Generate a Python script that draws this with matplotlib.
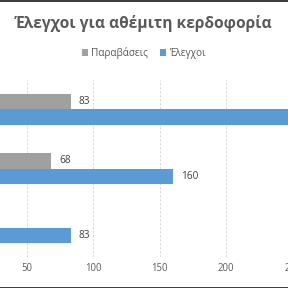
import matplotlib.pyplot as plt
from matplotlib.lines import Line2D

plt.rcParams['font.family'] = ['Open Sans', 'DejaVu Sans']
plt.rcParams['hatch.linewidth'] = 0.8

# data (bottom to top)
categories = ['Γ', 'Β', 'Α']
violations = [15, 68, 83]
checks = [83, 160, 260]
series_names = ['Παραβάσεις', 'Έλεγχοι']
xticks = [0, 50, 100, 150, 200, 250, 300]

W, H = 288, 288
fig = plt.figure(figsize=(W / 72, H / 72), dpi=72)
fig.patch.set_facecolor('white')

# plot area extends beyond the left/right edges like the cropped original
ax = fig.add_axes([-39.3 / W, 31 / H, 398 / W, 177 / H])

h = 0.265
y = list(range(len(categories)))
gray_bars = ax.barh([v + h / 2 for v in y], violations, height=h,
                    color='#a8a8a8', hatch='......', edgecolor='#8f8f8f',
                    linewidth=0, label=series_names[0])
blue_bars = ax.barh([v - h / 2 for v in y], checks, height=h,
                    color='#5b9bd5', linewidth=0, label=series_names[1])

for bars, vals in ((gray_bars, violations), (blue_bars, checks)):
    for b, v in zip(bars, vals):
        ax.annotate(str(v), (v, b.get_y() + b.get_height() / 2),
                    xytext=(8, 0), textcoords='offset points',
                    ha='left', va='center', fontsize=10, color='#404040')

ax.set_xlim(0, 300)
ax.set_ylim(-0.5, len(categories) - 0.5)
ax.set_xticks(xticks)
ax.set_yticks([])
ax.tick_params(axis='x', length=0, labelsize=9.5, labelcolor='#595959', pad=6)
ax.grid(axis='x', color='#d0d0d0', linewidth=0.8, linestyle=(0, (3, 2)))
ax.set_axisbelow(True)
for s in ax.spines.values():
    s.set_visible(False)

fig.text(0.5, 1 - 23 / H, 'Έλεγχοι για αθέμιτη κερδοφορία', ha='center',
         va='center', fontsize=15.5, fontweight='bold', color='#595959')
fig.legend(handles=[gray_bars, blue_bars], loc='center',
           bbox_to_anchor=(0.5, 1 - 53 / H), ncol=2, frameon=False,
           fontsize=10, labelcolor='#595959', handlelength=0.6,
           handleheight=0.6, handletextpad=0.3, columnspacing=1.2)

# black borders at top and bottom of the crop
fig.add_artist(Line2D([0, 1], [1 - 0.5 / H, 1 - 0.5 / H], color='black', linewidth=1.5))
fig.add_artist(Line2D([0, 1], [0.5 / H, 0.5 / H], color='black', linewidth=1.5))

fig.savefig('out.png', dpi=72)
